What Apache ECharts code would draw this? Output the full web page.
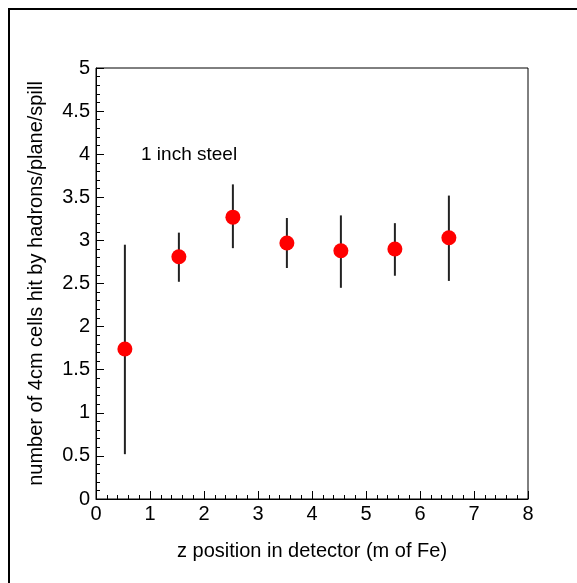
<!DOCTYPE html>
<html>
<head>
<meta charset="utf-8">
<script src="https://cdn.jsdelivr.net/npm/echarts@6/dist/echarts.min.js"></script>
<style>
html,body{margin:0;padding:0;background:#fff;}
#chart{width:577px;height:583px;}
</style>
</head>
<body>
<div id="chart"></div>
<script>
// data
var zPositions = [0.535, 1.535, 2.535, 3.535, 4.535, 5.535, 6.535];
var cellsHit   = [1.74, 2.81, 3.27, 2.97, 2.88, 2.90, 3.03];
var errLow     = [0.52, 2.52, 2.91, 2.68, 2.45, 2.59, 2.53];
var errHigh    = [2.95, 3.09, 3.65, 3.26, 3.29, 3.20, 3.52];
var xTicks = [0, 1, 2, 3, 4, 5, 6, 7, 8];
var yTicks = [0, 0.5, 1, 1.5, 2, 2.5, 3, 3.5, 4, 4.5, 5];
var annotation = '1 inch steel';
var xTitle = 'z position in detector (m of Fe)';
var yTitle = 'number of 4cm cells hit by hadrons/plane/spill';

var FONT = '"Liberation Sans", Arial, Helvetica, sans-serif';

var pts = zPositions.map(function (x, i) { return [x, cellsHit[i]]; });
var bars = zPositions.map(function (x, i) { return [x, errLow[i], errHigh[i]]; });

var chart = echarts.init(document.getElementById('chart'), null, {renderer: 'canvas'});
chart.setOption({
  animation: false,
  backgroundColor: '#fff',
  grid: {left: 96, right: 49, top: 68, bottom: 84, show: true, borderColor: '#000', borderWidth: 1, backgroundColor: 'transparent'},
  xAxis: {
    type: 'value', min: xTicks[0], max: xTicks[xTicks.length - 1], interval: 1,
    axisLine: {show: true, lineStyle: {color: '#000', width: 1}},
    axisTick: {show: true, inside: true, length: 8, lineStyle: {color: '#000', width: 1}},
    minorTick: {show: true, splitNumber: 5, length: 4, lineStyle: {color: '#000', width: 1}},
    splitLine: {show: false},
    axisLabel: {color: '#000', fontFamily: FONT, fontSize: 20, margin: 5},
    name: xTitle, nameLocation: 'middle', nameGap: 42,
    nameTextStyle: {color: '#000', fontFamily: FONT, fontSize: 20}
  },
  yAxis: {
    type: 'value', min: yTicks[0], max: yTicks[yTicks.length - 1], interval: 0.5,
    axisLine: {show: true, lineStyle: {color: '#000', width: 1}},
    axisTick: {show: true, inside: true, length: 8, lineStyle: {color: '#000', width: 1}},
    minorTick: {show: true, splitNumber: 5, length: 4, lineStyle: {color: '#000', width: 1}},
    splitLine: {show: false},
    axisLabel: {color: '#000', fontFamily: FONT, fontSize: 20, margin: 6},
    name: yTitle, nameLocation: 'middle', nameGap: 50, nameRotate: 90,
    nameTextStyle: {color: '#000', fontFamily: FONT, fontSize: 20}
  },
  graphic: [
    {type: 'rect', shape: {x: 9, y: 9, width: 1000, height: 1000}, style: {fill: 'none', stroke: '#000', lineWidth: 2}, silent: true},
    {type: 'text', left: 141, top: 145, style: {text: annotation, fill: '#000', font: '19px ' + FONT}}
  ],
  series: [
    {
      type: 'custom',
      data: bars,
      renderItem: function (params, api) {
        var p1 = api.coord([api.value(0), api.value(1)]);
        var p2 = api.coord([api.value(0), api.value(2)]);
        return {type: 'line', shape: {x1: p1[0], y1: p1[1], x2: p2[0], y2: p2[1]}, style: {stroke: '#222', lineWidth: 2}};
      },
      z: 2
    },
    {
      type: 'scatter', data: pts, symbol: 'circle', symbolSize: 15,
      itemStyle: {color: '#ff0000', opacity: 1}, z: 3
    }
  ]
});
</script>
</body>
</html>
